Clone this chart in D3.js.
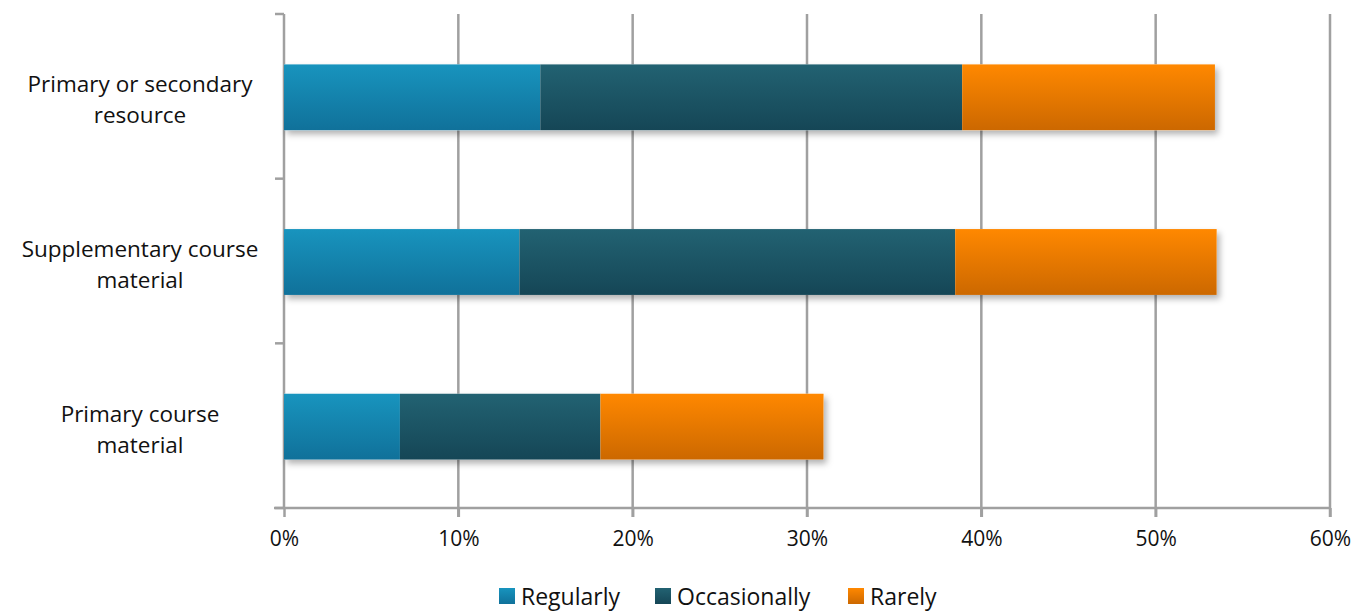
<!DOCTYPE html>
<html><head><meta charset="utf-8">
<script src="https://cdn.jsdelivr.net/npm/d3@7"></script>
<style>body{margin:0;background:#fff}text{font-family:"Open Sans",sans-serif;fill:#111}</style>
</head><body><svg id="c" width="1363" height="611"></svg>
<script>
const categories = ["Primary or secondary resource", "Supplementary course material", "Primary course material"];
const categoryLines = [["Primary or secondary", "resource"], ["Supplementary course", "material"], ["Primary course", "material"]];
const seriesNames = ["Regularly", "Occasionally", "Rarely"];
const regularly = [0.147, 0.135, 0.0665];
const occasionally = [0.242, 0.250, 0.115];
const rarely = [0.145, 0.150, 0.128];
const xTicks = [0, 0.1, 0.2, 0.3, 0.4, 0.5, 0.6];

const svg = d3.select("#c");
const m = {left: 284, right: 1330, top: 14, bottom: 508};
const x = d3.scaleLinear().domain([0, 0.6]).range([m.left, m.right]);
const y = d3.scaleBand().domain(categories).range([m.top + 1, m.bottom + 1]).paddingInner(0.6).paddingOuter(0.3);
const yb = d3.scaleBand().domain(categories).range([m.top, m.bottom]);

const grads = [["#1894be", "#10719a"], ["#226272", "#154656"], ["#ff8800", "#cc6800"]];
const defs = svg.append("defs");
grads.forEach((g, i) => {
  const lg = defs.append("linearGradient").attr("id", "g" + i).attr("x1", 0).attr("y1", 0).attr("x2", 0).attr("y2", 1);
  lg.append("stop").attr("offset", "0%").attr("stop-color", g[0]);
  lg.append("stop").attr("offset", "100%").attr("stop-color", g[1]);
});
const f = defs.append("filter").attr("id", "sh").attr("x", "-5%").attr("y", "-20%").attr("width", "115%").attr("height", "160%");
f.append("feDropShadow").attr("dx", 3).attr("dy", 4).attr("stdDeviation", 3).attr("flood-color", "#000").attr("flood-opacity", 0.3);

// gridlines
svg.append("g").selectAll("line").data(xTicks.slice(1)).join("line")
  .attr("x1", d => x(d)).attr("x2", d => x(d)).attr("y1", m.top).attr("y2", m.bottom + 9)
  .attr("stroke", "#a0a0a0").attr("stroke-width", 2.5);

// x axis
const xa = svg.append("g").attr("transform", `translate(0,${m.bottom})`)
  .call(d3.axisBottom(x).tickValues(xTicks).tickFormat(d3.format(".0%")).tickSize(9).tickPadding(14));
xa.select(".domain").attr("stroke", "#a0a0a0").attr("stroke-width", 2.5).attr("d", `M${m.left - 10},0H${m.right}`);
xa.selectAll(".tick line").attr("stroke", "#a0a0a0").attr("stroke-width", 2.5);
xa.selectAll(".tick text").style("font-size", "21px").attr("fill", "#111");

// y axis
const ya = svg.append("g").attr("transform", `translate(${m.left},0)`);
ya.append("line").attr("x1", 0).attr("x2", 0).attr("y1", m.top).attr("y2", m.bottom).attr("stroke", "#a0a0a0").attr("stroke-width", 2.5);
ya.selectAll("line.t").data(categories).join("line").attr("class", "t")
  .attr("x1", -9).attr("x2", 0).attr("y1", d => yb(d)).attr("y2", d => yb(d)).attr("stroke", "#a0a0a0").attr("stroke-width", 2.5);
ya.append("line").attr("x1", -9).attr("x2", 0).attr("y1", m.bottom).attr("y2", m.bottom).attr("stroke", "#a0a0a0").attr("stroke-width", 2.5);

// labels
categories.forEach((c, i) => {
  const t = svg.append("text").attr("text-anchor", "middle").style("font-size", "22.5px")
    .attr("x", 140).attr("y", yb(c) + yb.bandwidth() / 2 - 4);
  categoryLines[i].forEach((l, j) => t.append("tspan").attr("x", 140).attr("dy", j === 0 ? 0 : 31).text(l));
});

// bars
const data = categories.map((c, i) => ({cat: c, Regularly: regularly[i], Occasionally: occasionally[i], Rarely: rarely[i]}));
const stack = d3.stack().keys(seriesNames)(data);
const bars = svg.append("g");
bars.append("g").selectAll("rect").data(data).join("rect")
  .attr("x", x(0)).attr("y", d => y(d.cat)).attr("height", y.bandwidth())
  .attr("width", d => x(d.Regularly + d.Occasionally + d.Rarely) - x(0))
  .attr("fill", "#fff").attr("filter", "url(#sh)");
stack.forEach((s, i) => {
  bars.append("g").selectAll("rect").data(s).join("rect")
    .attr("x", d => x(d[0])).attr("y", d => y(d.data.cat)).attr("height", y.bandwidth())
    .attr("width", d => x(d[1]) - x(d[0])).attr("fill", `url(#g${i})`);
});

// legend
const legX = [499, 655, 848];
const lg = svg.append("g");
seriesNames.forEach((n, i) => {
  lg.append("rect").attr("x", legX[i]).attr("y", 588).attr("width", 16).attr("height", 16).attr("fill", `url(#g${i})`);
  lg.append("text").attr("x", legX[i] + 22).attr("y", 605).style("font-size", "23px").text(n);
});
</script></body></html>
